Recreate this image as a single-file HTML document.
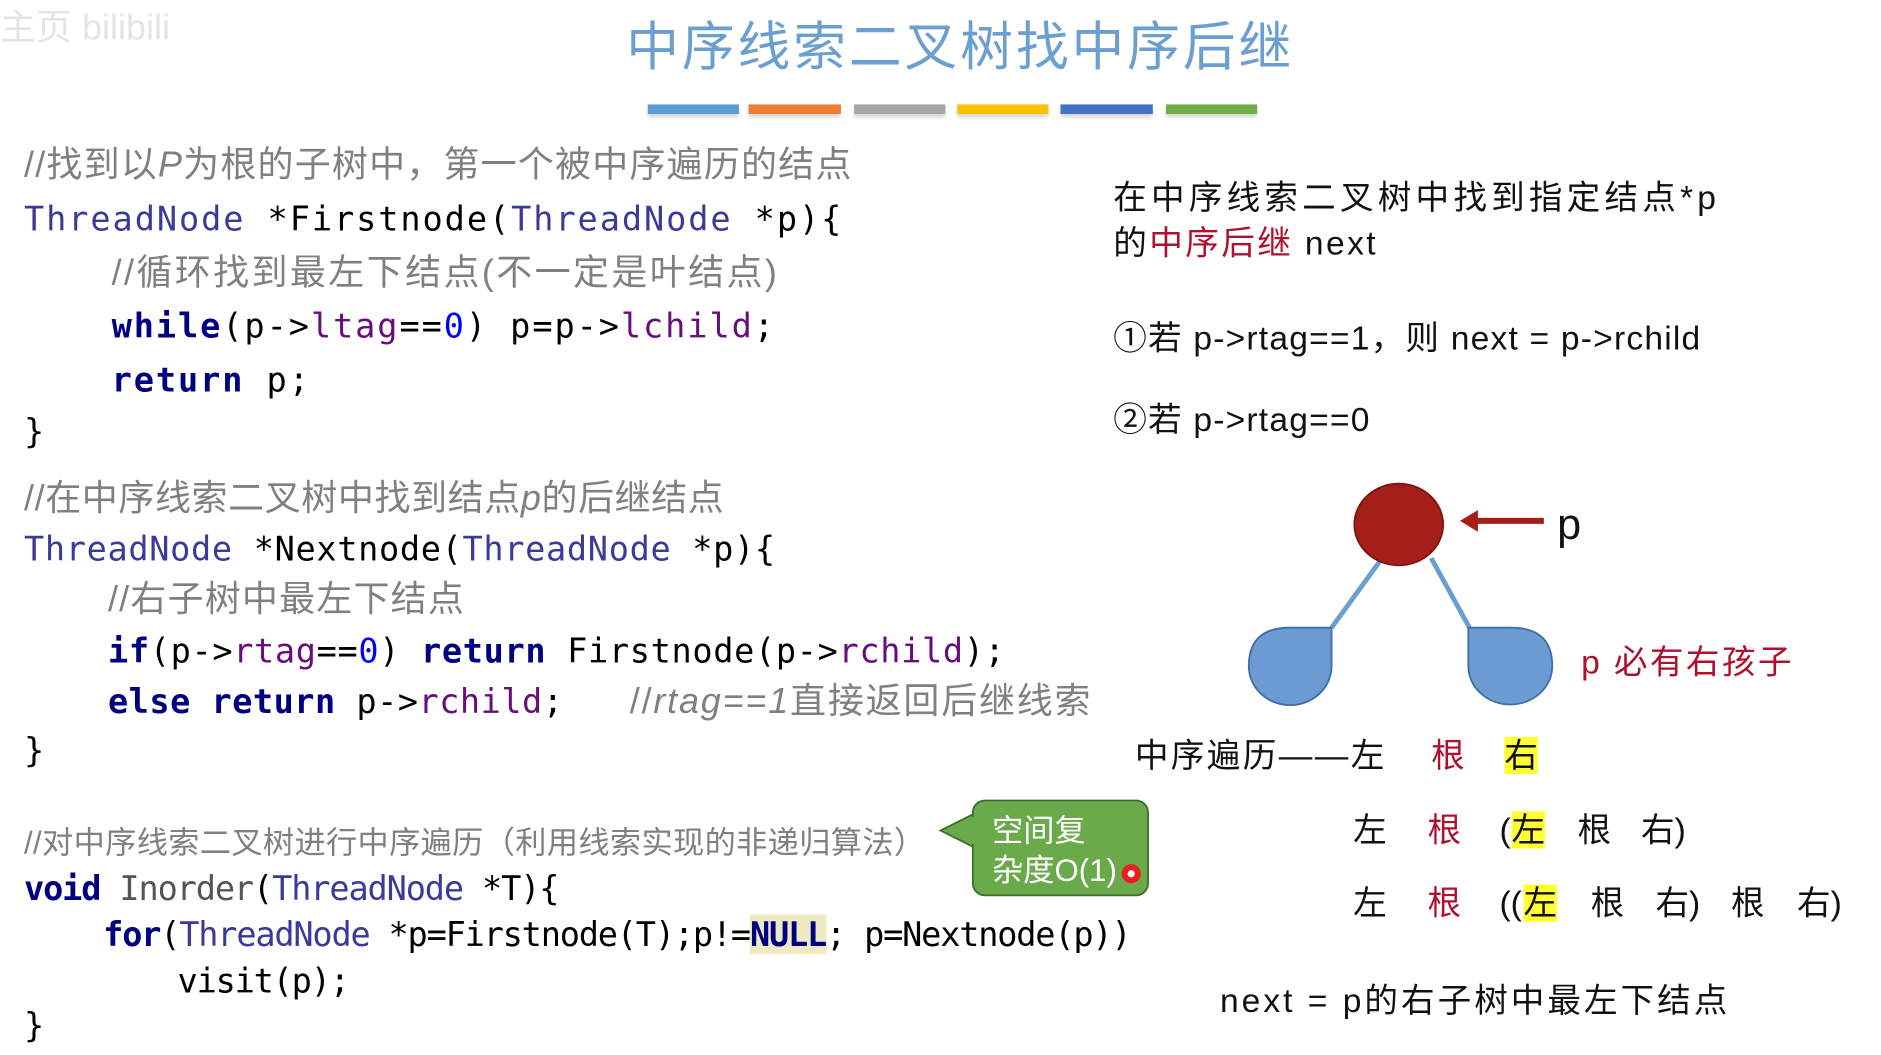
<!DOCTYPE html>
<html><head><meta charset="utf-8"><style>
html,body{margin:0;padding:0;background:#fff;width:1881px;height:1055px;overflow:hidden}
#s{position:absolute;left:0;top:0;width:1568px;height:879px;transform:scale(1.1996,1.2002);transform-origin:0 0}
.t{position:absolute;white-space:pre;line-height:1;transform:translateY(-50%)}
.code{font-family:"DejaVu Sans Mono","Liberation Mono","Noto Sans CJK SC",monospace;font-size:28px;letter-spacing:1.6px;color:#000}
.cm{font-family:"Liberation Sans","Noto Sans CJK SC",sans-serif;font-size:30px;color:#808080;letter-spacing:0.5px}
.ty{color:#3a3a98}
.kw{color:#000080;font-weight:bold}
.fd{color:#660e7a}
.num{color:#0000ff}
.zh{font-family:"Liberation Sans","Noto Sans CJK SC",sans-serif;font-size:28px;color:#111}
.red{color:#b0102e}
.hl{background:#ffff33}
.bar{position:absolute;top:87px;height:8px;box-shadow:0 3px 3px rgba(0,0,0,.15)}
</style></head><body><div id="s">
<div class="t" style="left:0;top:24px;font-family:'Liberation Sans','Noto Sans CJK SC',sans-serif;font-size:30px;color:#e4e4e4">主页 bilibili</div>
<div class="t" style="left:522px;top:40px;font-family:'Liberation Sans','Noto Sans CJK SC',sans-serif;font-size:44px;color:#6a9fd0;letter-spacing:2.4px">中序线索二叉树找中序后继</div>
<div class="bar" style="left:540px;width:76px;background:#5b9bd5"></div>
<div class="bar" style="left:624px;width:77px;background:#ed7d31"></div>
<div class="bar" style="left:712px;width:76px;background:#a5a5a5"></div>
<div class="bar" style="left:798px;width:76px;background:#ffc000"></div>
<div class="bar" style="left:884px;width:77px;background:#4472c4"></div>
<div class="bar" style="left:972px;width:76px;background:#70ad47"></div>

<div class="t cm" style="left:20px;top:138px;letter-spacing:1px">//找到以<i>P</i>为根的子树中，第一个被中序遍历的结点</div>
<div class="t code" style="left:20px;top:183px"><span class="ty">ThreadNode</span> *Firstnode(<span class="ty">ThreadNode</span> *p){</div>
<div class="t cm" style="left:93px;top:228px;letter-spacing:2px">//循环找到最左下结点(不一定是叶结点)</div>
<div class="t code" style="left:93px;top:272px"><span class="kw">while</span>(p-&gt;<span class="fd">ltag</span>==<span class="num">0</span>) p=p-&gt;<span class="fd">lchild</span>;</div>
<div class="t code" style="left:93px;top:317px"><span class="kw">return</span> p;</div>
<div class="t code" style="left:20px;top:360px">}</div>

<div class="t cm" style="left:20px;top:416px">//在中序线索二叉树中找到结点<i>p</i>的后继结点</div>
<div class="t code" style="left:20px;top:458px;letter-spacing:0.55px"><span class="ty">ThreadNode</span> *Nextnode(<span class="ty">ThreadNode</span> *p){</div>
<div class="t cm" style="left:90px;top:500px;letter-spacing:1px">//右子树中最左下结点</div>
<div class="t code" style="left:90px;top:543px;letter-spacing:0.54px"><span class="kw">if</span>(p-&gt;<span class="fd">rtag</span>==<span class="num">0</span>) <span class="kw">return</span> Firstnode(p-&gt;<span class="fd">rchild</span>);</div>
<div class="t code" style="left:90px;top:585px;letter-spacing:0.4px"><span class="kw">else</span> <span class="kw">return</span> p-&gt;<span class="fd">rchild</span>;</div>
<div class="t cm" style="left:525px;top:585px;letter-spacing:1.5px">//<i>rtag==1</i>直接返回后继线索</div>
<div class="t code" style="left:20px;top:626px">}</div>

<div class="t cm" style="left:20px;top:702px;font-size:26px;letter-spacing:0.3px">//对中序线索二叉树进行中序遍历（利用线索实现的非递归算法）</div>
<div class="t code" style="left:20px;top:741px;letter-spacing:-0.95px"><span class="kw">void</span> <span style="color:#555">Inorder</span>(<span class="ty">ThreadNode</span> *T){</div>
<div class="t code" style="left:86px;top:779px;letter-spacing:-1px"><span class="kw">for</span>(<span class="ty">ThreadNode</span> *p=Firstnode(T);p!=<span class="kw" style="background:#efe9c4">NULL</span>; p=Nextnode(p))</div>
<div class="t code" style="left:148px;top:818px;letter-spacing:-1px">visit(p);</div>
<div class="t code" style="left:20px;top:855px">}</div>

<svg style="position:absolute;left:0;top:0" width="1568" height="879">
<path d="M784,692 L812,678 L812,706 Z" fill="#6aaa4a" stroke="#3d6e2a" stroke-width="1.5"/>
<rect x="811" y="667" width="146" height="79" rx="10" fill="#6aaa4a" stroke="#3d6e2a" stroke-width="1.5"/>
<path d="M786,692 L813,680 L813,704 Z" fill="#6aaa4a"/>
<circle cx="943" cy="728" r="8" fill="#e82020"/>
<circle cx="943" cy="728" r="3" fill="#fff"/>
<line x1="1150" y1="468" x2="1110" y2="523" stroke="#6a9fd0" stroke-width="4"/>
<line x1="1193" y1="465" x2="1225" y2="523" stroke="#6a9fd0" stroke-width="4"/>
<ellipse cx="1166" cy="437" rx="37" ry="34" fill="#a41e1a" stroke="#7a1512" stroke-width="1.5"/>
<path d="M1110,523 L1110,555 A34,32 0 1 1 1041,555 Q1041,523 1075,523 Z" fill="#6b9bd2" stroke="#3f6ea5" stroke-width="1.5"/>
<path d="M1224,523 L1224,555 A35,32 0 1 0 1294,555 Q1294,523 1260,523 Z" fill="#6b9bd2" stroke="#3f6ea5" stroke-width="1.5"/>
<line x1="1287" y1="434" x2="1228" y2="434" stroke="#a41e1a" stroke-width="5"/>
<path d="M1217,434 L1232,425 L1232,443 Z" fill="#a41e1a"/>
</svg>
<div class="t zh" style="left:827px;top:692px;color:#fff;font-size:26px">空间复</div>
<div class="t zh" style="left:827px;top:725px;color:#fff;font-size:26px">杂度O(1)</div>

<div class="t zh" style="left:928px;top:165px;letter-spacing:3.5px">在中序线索二叉树中找到指定结点*p</div>
<div class="t zh" style="left:928px;top:203px;letter-spacing:2px">的<span class="red">中序后继</span> next</div>
<div class="t zh" style="left:928px;top:282px;letter-spacing:1px">①若 p-&gt;rtag==1，则 next = p-&gt;rchild</div>
<div class="t zh" style="left:928px;top:350px;letter-spacing:1px">②若 p-&gt;rtag==0</div>
<div class="t zh" style="left:1298px;top:437px;font-size:36px">p</div>
<div class="t zh red" style="left:1318px;top:552px;font-size:28px;letter-spacing:2px">p 必有右孩子</div>

<div class="t zh" style="left:946px;top:630px;letter-spacing:2px">中序遍历——左</div>
<div class="t zh red" style="left:1193px;top:630px">根</div>
<div class="t zh" style="left:1254px;top:630px"><span class="hl">右</span></div>

<div class="t zh" style="left:1128px;top:692px">左</div>
<div class="t zh red" style="left:1190px;top:692px">根</div>
<div class="t zh" style="left:1250px;top:692px">(</div>
<div class="t zh" style="left:1260px;top:692px"><span class="hl">左</span></div>
<div class="t zh" style="left:1315px;top:692px">根</div>
<div class="t zh" style="left:1368px;top:692px">右)</div>

<div class="t zh" style="left:1128px;top:753px">左</div>
<div class="t zh red" style="left:1190px;top:753px">根</div>
<div class="t zh" style="left:1250px;top:753px">((</div>
<div class="t zh" style="left:1270px;top:753px"><span class="hl">左</span></div>
<div class="t zh" style="left:1326px;top:753px">根</div>
<div class="t zh" style="left:1380px;top:753px">右)</div>
<div class="t zh" style="left:1443px;top:753px">根</div>
<div class="t zh" style="left:1498px;top:753px">右)</div>

<div class="t zh" style="left:1017px;top:834px;letter-spacing:2.5px">next = p的右子树中最左下结点</div>
</div></body></html>
